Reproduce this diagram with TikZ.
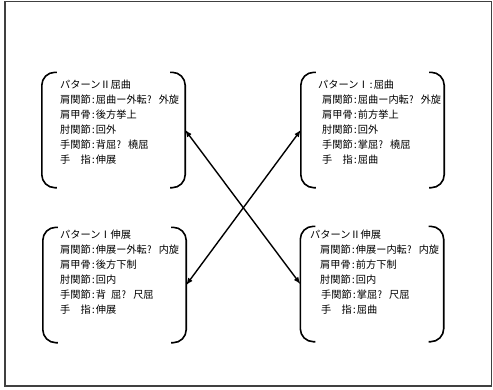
\documentclass[tikz,border=0pt]{standalone}
\usepackage{fontspec}
\newfontfamily\jpfont[RawFeature=+hwid]{Noto Sans CJK JP}
\newlength{\du}
\setlength{\du}{1pt}
\tikzset{
  bracketbox/.style={rectangle, inner sep=0pt, minimum width=143\du, minimum height=115\du},
  bracketside/.style={line width=1.6\du, rounded corners=13\du},
  patterntext/.style={anchor=north west, inner sep=0pt, align=left, font=\jpfont\fontsize{10.2}{15}\selectfont},
  crossarrow/.style={<->, >=latex, line width=1.4\du},
}
\begin{document}
\begin{tikzpicture}
\pgftransformxscale{1.000000}
\pgftransformyscale{-1.000000}
\useasboundingbox (0\du,0\du) rectangle (493\du,389\du);
\definecolor{dialinecolor}{rgb}{0.250000, 0.250000, 0.250000}
\draw[line width=1.5\du, draw=dialinecolor] (5\du,1.5\du) rectangle (491.5\du,386\du);
% bracket boxes
\node[bracketbox] (tl) at (113.5\du,130\du){};
\node[bracketbox] (tr) at (372.5\du,130\du){};
\node[bracketbox] (bl) at (114.5\du,285\du){};
\node[bracketbox] (br) at (372\du,284\du){};
\draw[bracketside] (tl.north west) ++(15\du,0) -| (tl.south west) -- ++(15\du,0);
\draw[bracketside] (tl.north east) ++(-15\du,0) -| (tl.south east) -- ++(-15\du,0);
\draw[bracketside] (tr.north west) ++(15\du,0) -| (tr.south west) -- ++(15\du,0);
\draw[bracketside] (tr.north east) ++(-15\du,0) -| (tr.south east) -- ++(-15\du,0);
\draw[bracketside] (bl.north west) ++(15\du,0) -| (bl.south west) -- ++(15\du,0);
\draw[bracketside] (bl.north east) ++(-15\du,0) -| (bl.south east) -- ++(-15\du,0);
\draw[bracketside] (br.north west) ++(15\du,0) -| (br.south west) -- ++(15\du,0);
\draw[bracketside] (br.north east) ++(-15\du,0) -| (br.south east) -- ++(-15\du,0);
% texts
\node[patterntext] (tltext) at (60\du,80\du){パターンⅡ屈曲\\肩関節:屈曲ー外転? 外旋\\肩甲骨:後方挙上\\肘関節:回外\\手関節:背屈? 橈屈\\手\hspace*{1em}指:伸展};
\node[patterntext] (trtext) at (318\du,80\du){パターンⅠ:屈曲\\\hspace*{4\du}肩関節:屈曲ー内転? 外旋\\\hspace*{4\du}肩甲骨:前方挙上\\\hspace*{4\du}肘関節:回外\\\hspace*{4\du}手関節:掌屈? 橈屈\\\hspace*{4\du}手\hspace*{1em}指:屈曲};
\node[patterntext] (bltext) at (60\du,230\du){パターンⅠ伸展\\肩関節:伸展ー外転? 内旋\\肩甲骨:後方下制\\肘関節:回内\\手関節:背 屈? 尺屈\\手\hspace*{1em}指:伸展};
\node[patterntext] (brtext) at (310\du,230\du){パターンⅡ伸展\\\hspace*{10\du}肩関節:伸展ー内転? 内旋\\\hspace*{10\du}肩甲骨:前方下制\\\hspace*{10\du}肘関節:回内\\\hspace*{11\du}手関節:掌屈? 尺屈\\\hspace*{11\du}手\hspace*{1em}指:屈曲};
% was here!!!
\draw[crossarrow] (tl.east)--(br.west);
\draw[crossarrow] (tr.west)--(bl.east);
\end{tikzpicture}
\end{document}
